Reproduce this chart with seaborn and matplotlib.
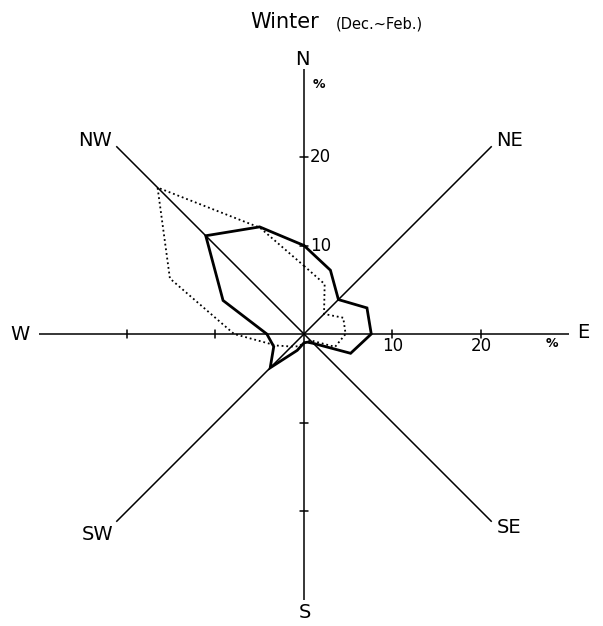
import numpy as np
import pandas as pd
import matplotlib
matplotlib.use("Agg")
import matplotlib.pyplot as plt
import seaborn as sns

# Winter wind-frequency rose, 16 compass points, percent of observations
directions = ["N", "NNE", "NE", "ENE", "E", "ESE", "SE", "SSE",
              "S", "SSW", "SW", "WSW", "W", "WNW", "NW", "NNW"]
freq_solid = [10.0, 7.8, 5.5, 7.7, 7.6, 5.7, 1.5, 1.0,
              1.0, 2.0, 5.4, 3.7, 4.2, 9.9, 15.7, 13.1]
freq_dotted = [7.7, 6.1, 3.2, 4.8, 4.7, 3.8, 1.0, 1.0,
               1.0, 1.5, 2.0, 3.4, 7.9, 16.4, 23.4, 13.0]

axis_labels = ["N", "NE", "E", "SE", "S", "SW", "W", "NW"]
axis_ticks = [10, 20]
axis_length = 30

sns.set_theme(style="white")
plt.rcParams["font.family"] = ["DejaVu Sans"]
plt.rcParams["text.color"] = "black"

PX = 8.85  # pixels per percent
W, H = 603, 626
cx, cy = 304, 334

fig = plt.figure(figsize=(W / 100, H / 100), dpi=100)
ax = fig.add_axes([0, 0, 1, 1])
ax.set_xlim(-cx / PX, (W - cx) / PX)
ax.set_ylim(-(H - cy) / PX, cy / PX)
ax.set_aspect("equal")
ax.axis("off")


def rose_frame(values, name):
    ang = np.deg2rad(np.arange(len(values)) * 22.5)
    v = np.asarray(values, dtype=float)
    df = pd.DataFrame({"x": v * np.sin(ang), "y": v * np.cos(ang),
                       "order": np.arange(len(v)), "series": name})
    return pd.concat([df, df.iloc[:1]], ignore_index=True)


# compass axes
for i, lab in enumerate(axis_labels):
    a = np.deg2rad(i * 45)
    ax.plot([0, axis_length * np.sin(a)], [0, axis_length * np.cos(a)],
            color="black", lw=1.1, solid_capstyle="butt", zorder=1)

# tick marks on the four cardinal axes
for i in range(4):
    a = np.deg2rad(i * 90)
    ux, uy = np.sin(a), np.cos(a)
    for t in axis_ticks:
        px_, py_ = t * ux, t * uy
        ax.plot([px_ - 0.45 * uy, px_ + 0.45 * uy],
                [py_ + 0.45 * ux, py_ - 0.45 * ux],
                color="black", lw=1.1, zorder=1)

# tick values on N and E axes
for t in axis_ticks:
    ax.text(0.7, t, str(t), fontsize=12, ha="left", va="center")
    ax.text(t, -1.4, str(t), fontsize=12, ha="center", va="center")
ax.text(1.0, 28.2, "%", fontsize=9, ha="left", va="center", fontweight="bold")
ax.text(28.0, -1.1, "%", fontsize=9, ha="center", va="center", fontweight="bold")

# direction labels
label_pos = {"N": (-0.2, 31.0), "NE": (23.2, 21.9), "E": (31.6, 0.2),
             "SE": (23.2, -21.9), "S": (0.1, -31.5), "SW": (-23.3, -22.7),
             "W": (-32.1, -0.1), "NW": (-23.6, 21.9)}
for lab in axis_labels:
    x, y = label_pos[lab]
    ax.text(x, y, lab, fontsize=14, ha="center", va="center")

# title
ax.text(-6.1, 35.3, "Winter", fontsize=15, ha="left", va="center",
        fontstretch="expanded")
ax.text(3.6, 35.0, "(Dec.~Feb.)", fontsize=10.5, ha="left", va="center")

# frequency polygons
solid = rose_frame(freq_solid, "solid")
dotted = rose_frame(freq_dotted, "dotted")
sns.lineplot(data=dotted, x="x", y="y", sort=False, estimator=None, ax=ax,
             color="black", lw=1.3, linestyle=(0, (1, 1.6)), zorder=2)
sns.lineplot(data=solid, x="x", y="y", sort=False, estimator=None, ax=ax,
             color="black", lw=2.0, zorder=3, solid_joinstyle="miter")

fig.savefig("out.png", dpi=100)
